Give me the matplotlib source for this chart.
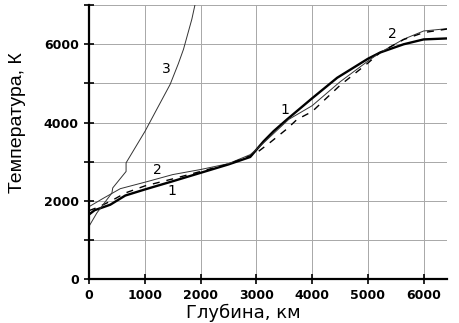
import numpy as np
import matplotlib.pyplot as plt

# depth (km) vs temperature (K) profiles
depth_1 = [0, 100, 380, 650, 1000, 1500, 2000, 2500, 2890, 3130, 3310, 3550, 4000, 4450, 5000, 5220, 5640, 6000, 6420]
temp_1 = [1650, 1760, 1900, 2135, 2290, 2500, 2715, 2930, 3120, 3520, 3780, 4080, 4620, 5145, 5630, 5790, 6000, 6125, 6150]

depth_2 = [0, 250, 560, 1040, 1500, 2000, 2500, 2890, 3070, 3580, 4000, 4500, 5000, 5220, 5640, 6000, 6420]
temp_2 = [1850, 2060, 2310, 2490, 2670, 2800, 2950, 3180, 3400, 4080, 4430, 5040, 5570, 5790, 6130, 6340, 6400]

depth_d = [0, 150, 400, 650, 1000, 1500, 2000, 2500, 2890, 3040, 3220, 3550, 3730, 4000, 4500, 5000, 5220, 5640, 6000, 6420]
temp_d = [1750, 1830, 2000, 2200, 2380, 2560, 2750, 2940, 3150, 3265, 3460, 3840, 4080, 4280, 4950, 5520, 5790, 6120, 6300, 6390]

depth_3 = [0, 140, 410, 425, 664, 664, 1005, 1200, 1454, 1600, 1693, 1843, 1921]
temp_3 = [1350, 1690, 2200, 2330, 2750, 2970, 3780, 4300, 4975, 5500, 5870, 6640, 7150]

fig = plt.figure(figsize=(4.59, 3.23), dpi=100)
ax = fig.add_axes([0.194, 0.136, 0.780, 0.848])

ax.plot(depth_1, temp_1, color='black', lw=1.7)
ax.plot(depth_2, temp_2, color='#333333', lw=0.7)
ax.plot(depth_d, temp_d, color='black', lw=1.0, dashes=(5, 5))
ax.plot(depth_3, temp_3, color='#333333', lw=0.7)

lbl = dict(fontsize=10, color='black', ha='center', va='center')
ax.text(1490, 2250, '1', **lbl)
ax.text(3520, 4330, '1', **lbl)
ax.text(1220, 2800, '2', **lbl)
ax.text(5440, 6260, '2', **lbl)
ax.text(1380, 5360, '3', **lbl)

ax.set_xlim(0, 6420)
ax.set_ylim(0, 7000)
ax.set_xticks(np.arange(0, 7000, 1000))
ax.set_yticks(np.arange(0, 8000, 1000))
ax.set_yticklabels([str(v) if v % 2000 == 0 else '' for v in range(0, 8000, 1000)])
ax.grid(True, color='#a8a8a8', lw=0.7)
ax.set_axisbelow(True)

for s in ['top', 'right']:
    ax.spines[s].set_visible(False)
for s in ['left', 'bottom']:
    ax.spines[s].set_linewidth(1.6)
ax.tick_params(direction='inout', length=7, width=1.2, labelsize=9)
for t in ax.get_xticklabels() + ax.get_yticklabels():
    t.set_fontweight('bold')
ax.tick_params(axis='y', pad=4)

ax.set_xlabel('Глубина, км', fontsize=13, labelpad=1)
ax.xaxis.set_label_coords(0.43, -0.09)
ax.set_ylabel('Температура, К', fontsize=14, family='Liberation Sans')
ax.yaxis.set_label_coords(-0.175, 0.57)

fig.savefig('out.png', dpi=100)
